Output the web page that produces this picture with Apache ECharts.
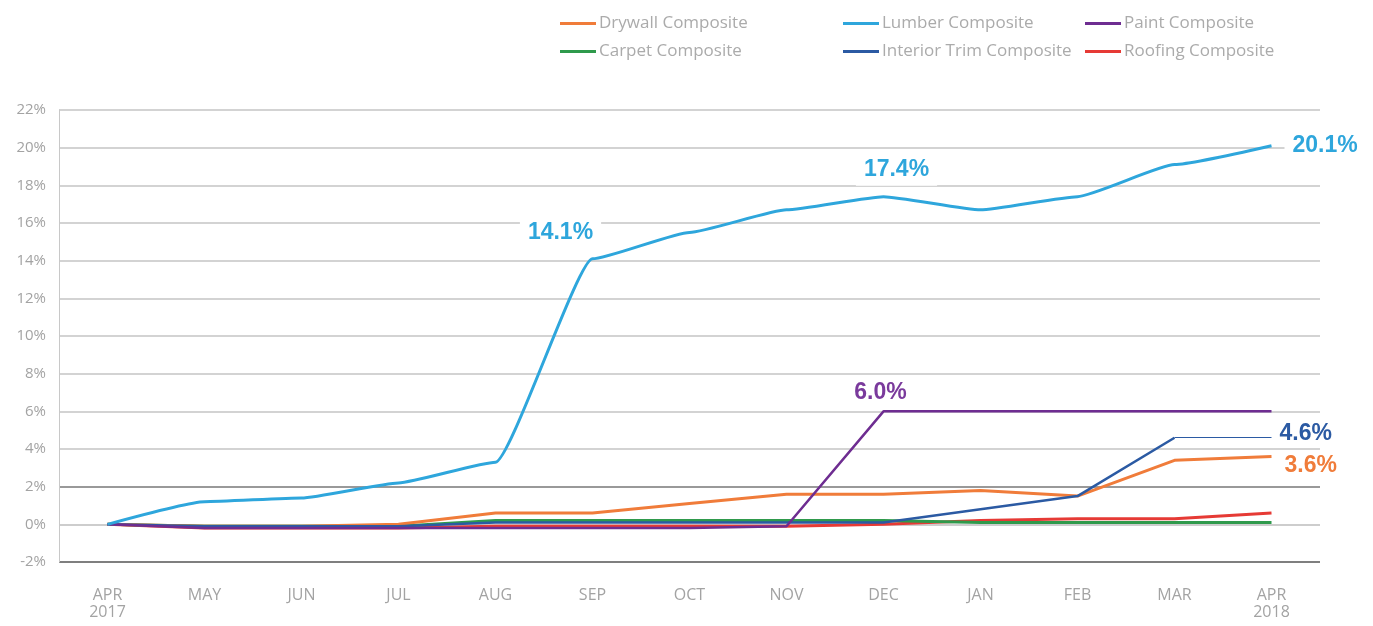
<!DOCTYPE html>
<html>
<head>
<meta charset="utf-8">
<script src="https://cdn.jsdelivr.net/npm/echarts@6/dist/echarts.min.js"></script>
<style>
  html, body { margin: 0; padding: 0; background: #fff; }
  #chart { width: 1373px; height: 626px; }
</style>
</head>
<body>
<div id="chart"></div>
<script>
// months along the x axis
const months = ['APR\n2017', 'MAY', 'JUN', 'JUL', 'AUG', 'SEP', 'OCT', 'NOV', 'DEC', 'JAN', 'FEB', 'MAR', 'APR\n2018']

// cumulative price change, %
const lumber = [0, 1.2, 1.4, 2.2, 3.3, 14.1, 15.5, 16.7, 17.4, 16.7, 17.4, 19.1, 20.1]
const drywall = [0, -0.1, -0.1, 0, 0.6, 0.6, 1.1, 1.6, 1.6, 1.8, 1.5, 3.4, 3.6]
const paint = [0, -0.2, -0.2, -0.2, -0.2, -0.2, -0.2, -0.1, 6.0, 6.0, 6.0, 6.0, 6.0]
const carpet = [0, -0.1, -0.1, -0.1, 0.2, 0.2, 0.2, 0.2, 0.2, 0.1, 0.1, 0.1, 0.1]
const trim = [0, -0.1, -0.1, -0.1, 0.1, 0.1, 0.1, 0.1, 0.1, 0.8, 1.5, 4.6, 4.6]
const roofing = [0, -0.2, -0.2, -0.2, -0.1, -0.1, -0.1, -0.1, 0, 0.2, 0.3, 0.3, 0.6]

const yTicks = [-2, 0, 2, 4, 6, 8, 10, 12, 14, 16, 18, 20, 22]

const colors = {
  drywall: '#f07c3a',
  lumber: '#2ea6dc',
  paint: '#6e2d91',
  carpet: '#2f9a4c',
  trim: '#2b5aa3',
  roofing: '#e63a35',
}

const labelFont = { fontFamily: 'Liberation Sans', fontSize: 23, fontWeight: 'bold' }

// data with a value label on some points
function withLabels(values, color, labels) {
  return values.map((v, i) => {
    const l = labels[i]
    if (!l) return v
    return {
      value: v,
      label: {
        show: true,
        position: l.pos,
        offset: l.offset,
        formatter: v.toFixed(1) + '%',
        color: color,
        backgroundColor: '#fff',
        padding: [4, 8],
        ...labelFont,
      },
    }
  })
}

const legendBase = {
  orient: 'vertical',
  top: 10,
  itemGap: 11,
  itemWidth: 36,
  itemHeight: 3,
  icon: 'rect',
  textStyle: { color: '#ababab', fontSize: 17, fontFamily: 'Open Sans', padding: [0, 0, 0, -2] },
}

const chart = echarts.init(document.getElementById('chart'))

const option = {
  animation: false,
  color: [colors.drywall, colors.lumber, colors.paint, colors.carpet, colors.trim, colors.roofing],
  legend: [
    { ...legendBase, left: 555, data: ['Drywall Composite', 'Carpet Composite'] },
    { ...legendBase, left: 838, data: ['Lumber Composite', 'Interior Trim Composite'] },
    { ...legendBase, left: 1080, data: ['Paint Composite', 'Roofing Composite'] },
  ],
  grid: { left: 59, right: 53, top: 110, bottom: 64 },
  xAxis: {
    type: 'category',
    data: months,
    boundaryGap: true,
    axisLine: { show: false },
    axisTick: { show: false },
    axisLabel: { color: '#a3a3a3', fontSize: 16, lineHeight: 17, margin: 25, fontFamily: 'Open Sans' },
  },
  yAxis: {
    type: 'value',
    min: yTicks[0],
    max: yTicks[yTicks.length - 1],
    interval: 2,
    axisLine: { show: true, lineStyle: { color: '#c8c8c8', width: 1 } },
    axisTick: { show: false },
    axisLabel: { color: '#a3a3a3', fontSize: 15, margin: 13, formatter: v => v + '%', fontFamily: 'Open Sans' },
    splitLine: {
      lineStyle: {
        width: 1.5,
        color: ['#555', '#bdbdbd', '#777', '#c4c4c4', '#c4c4c4', '#c4c4c4', '#c4c4c4', '#c4c4c4', '#c4c4c4', '#c4c4c4', '#c4c4c4', '#c4c4c4', '#c4c4c4'],
      },
    },
  },
  series: [
    {
      name: 'Roofing Composite',
      type: 'line',
      data: roofing,
      symbol: 'none',
      lineStyle: { width: 3 },
      color: colors.roofing,
    },
    {
      name: 'Carpet Composite',
      type: 'line',
      data: carpet,
      symbol: 'none',
      lineStyle: { width: 3 },
      color: colors.carpet,
    },
    {
      name: 'Drywall Composite',
      type: 'line',
      data: withLabels(drywall, colors.drywall, { 12: { pos: 'right', offset: [0, 9] } }),
      symbol: 'circle',
      symbolSize: 0,
      lineStyle: { width: 3 },
      color: colors.drywall,
    },
    {
      name: 'Interior Trim Composite',
      type: 'line',
      // the last month is drawn as a thin leader line
      data: trim.slice(0, 12),
      symbol: 'none',
      lineStyle: { width: 2.5 },
      color: colors.trim,
      markLine: {
        silent: true,
        symbol: 'none',
        lineStyle: { color: colors.trim, width: 1, type: 'solid' },
        label: {
          show: true,
          position: 'end',
          formatter: trim[12].toFixed(1) + '%',
          color: colors.trim,
          distance: 8,
          offset: [0, -4],
          ...labelFont,
        },
        data: [[{ coord: [months[11], trim[11]] }, { coord: [months[12], trim[12]] }]],
      },
    },
    {
      name: 'Paint Composite',
      type: 'line',
      data: withLabels(paint, '#7a3a9c', { 8: { pos: 'top', offset: [-3, 2] } }),
      symbol: 'circle',
      symbolSize: 0,
      lineStyle: { width: 2.5 },
      color: colors.paint,
    },
    {
      name: 'Lumber Composite',
      type: 'line',
      data: withLabels(lumber, colors.lumber, {
        5: { pos: 'top', offset: [-32, -6] },
        8: { pos: 'top', offset: [13, -6] },
        12: { pos: 'right', offset: [8, 0] },
      }),
      symbol: 'circle',
      symbolSize: 0,
      smooth: 0.15,
      smoothMonotone: 'x',
      lineStyle: { width: 3 },
      color: colors.lumber,
    },
  ],
}

chart.setOption(option)
</script>
</body>
</html>
